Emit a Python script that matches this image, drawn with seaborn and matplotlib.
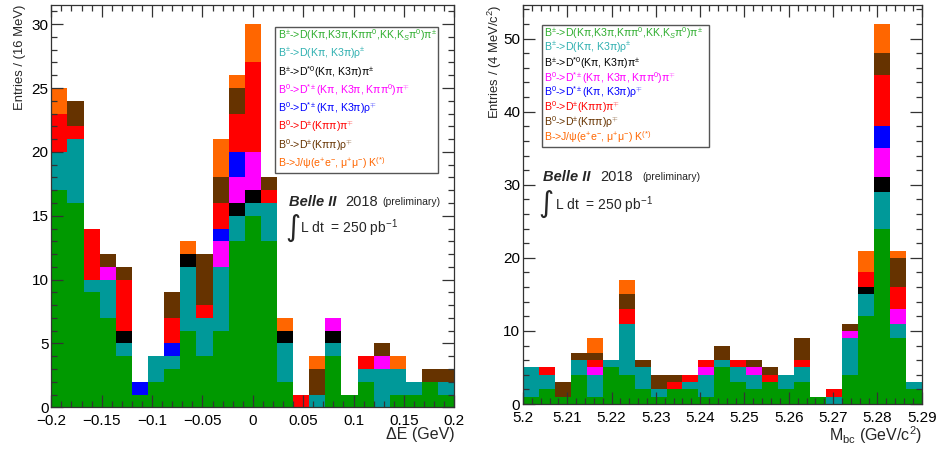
import numpy as np
import pandas as pd
import matplotlib
matplotlib.use("Agg")
import matplotlib.pyplot as plt
import seaborn as sns
from matplotlib.patches import Rectangle
from matplotlib.ticker import MultipleLocator, FuncFormatter

# ---------------- data ----------------
channels = ["Dpi", "Drho", "Dst0pi", "Dstpi", "Dstrho", "Dpi0", "Drho0", "JpsiK"]
legend_labels = [
    r"B$^{\pm}$->D(Kπ,K3π,Kππ$^{0}$,KK,K$_{S}$π$^{0}$)π$^{\pm}$",
    r"B$^{\pm}$->D(Kπ, K3π)ρ$^{\pm}$",
    r"B$^{\pm}$->D$^{*0}$(Kπ, K3π)π$^{\pm}$",
    r"B$^{0}$->D$^{*\pm}$(Kπ, K3π, Kππ$^{0}$)π$^{\mp}$",
    r"B$^{0}$->D$^{*\pm}$(Kπ, K3π)ρ$^{\mp}$",
    r"B$^{0}$->D$^{\pm}$(Kππ)π$^{\mp}$",
    r"B$^{0}$->D$^{\pm}$(Kππ)ρ$^{\mp}$",
    r"B->J/ψ(e$^{+}$e$^{-}$, μ$^{+}$μ$^{-}$) K$^{(*)}$",
]
bar_colors = ["#009900", "#009999", "#000000", "#ff00ff", "#0000ff", "#ff0000", "#663300", "#ff6600"]
text_colors = ["#2fae2f", "#2fb0b0", "#000000", "#ff00ff", "#0000ff", "#ff0000", "#663300", "#ff6600"]

# Delta E panel: 25 bins from -0.2 to 0.2 GeV
de_range = (-0.2, 0.2)
de_Dpi    = [17, 16, 9, 7, 4, 1, 2, 3, 6, 4, 6, 13, 15, 13, 2, 0, 0, 4, 1, 2, 0, 1, 1, 2, 1]
de_Drho   = [3, 5, 1, 3, 1, 0, 2, 1, 5, 3, 5, 2, 1, 3, 3, 0, 1, 1, 0, 1, 3, 2, 1, 0, 1]
de_Dst0pi = [0, 0, 0, 0, 1, 0, 0, 0, 1, 0, 0, 1, 1, 0, 1, 0, 0, 1, 0, 0, 0, 0, 0, 0, 0]
de_Dstpi  = [0, 0, 0, 1, 0, 0, 0, 0, 0, 0, 2, 2, 3, 0, 0, 0, 0, 1, 0, 0, 1, 0, 0, 0, 0]
de_Dstrho = [0, 0, 0, 0, 0, 1, 0, 1, 0, 0, 1, 2, 0, 0, 0, 0, 0, 0, 0, 0, 0, 0, 0, 0, 0]
de_Dpi0   = [3, 1, 4, 0, 4, 0, 0, 2, 0, 1, 2, 3, 7, 1, 0, 1, 0, 0, 0, 1, 0, 0, 0, 0, 0]
de_Drho0  = [0, 2, 0, 1, 1, 0, 0, 2, 0, 4, 2, 2, 0, 1, 0, 0, 2, 0, 0, 0, 1, 0, 0, 1, 1]
de_JpsiK  = [2, 0, 0, 0, 0, 0, 0, 0, 1, 0, 3, 1, 3, 0, 1, 0, 1, 0, 0, 0, 0, 1, 0, 0, 0]

# Mbc panel: 25 bins from 5.2 to 5.29 GeV/c^2
mbc_range = (5.2, 5.29)
mbc_Dpi    = [1, 2, 1, 4, 1, 5, 4, 2, 1, 2, 2, 1, 5, 3, 2, 3, 2, 3, 1, 0, 4, 12, 24, 9, 2]
mbc_Drho   = [4, 2, 0, 2, 3, 1, 7, 3, 1, 0, 1, 3, 1, 2, 2, 0, 2, 2, 0, 1, 5, 3, 5, 2, 1]
mbc_Dst0pi = [0, 0, 0, 0, 0, 0, 0, 0, 0, 0, 0, 0, 0, 0, 0, 0, 0, 0, 0, 0, 0, 1, 2, 0, 0]
mbc_Dstpi  = [0, 0, 0, 0, 1, 0, 0, 0, 0, 0, 0, 1, 0, 0, 1, 0, 0, 0, 0, 0, 1, 0, 4, 2, 0]
mbc_Dstrho = [0, 0, 0, 0, 0, 0, 0, 0, 0, 0, 0, 0, 0, 0, 0, 0, 0, 0, 0, 0, 0, 0, 3, 0, 0]
mbc_Dpi0   = [0, 1, 0, 0, 1, 0, 2, 0, 0, 1, 1, 1, 0, 1, 0, 1, 0, 1, 0, 1, 0, 2, 7, 3, 0]
mbc_Drho0  = [0, 0, 2, 1, 1, 0, 2, 1, 2, 1, 0, 0, 2, 0, 1, 1, 0, 3, 0, 0, 1, 0, 3, 4, 0]
mbc_JpsiK  = [0, 0, 0, 0, 2, 0, 2, 0, 0, 0, 0, 0, 0, 0, 0, 0, 0, 0, 0, 0, 0, 3, 4, 1, 0]

de_series = [de_Dpi, de_Drho, de_Dst0pi, de_Dstpi, de_Dstrho, de_Dpi0, de_Drho0, de_JpsiK]
mbc_series = [mbc_Dpi, mbc_Drho, mbc_Dst0pi, mbc_Dstpi, mbc_Dstrho, mbc_Dpi0, mbc_Drho0, mbc_JpsiK]

# ---------------- style ----------------
sns.set_style("ticks")
plt.rcParams["font.family"] = ["Liberation Sans", "DejaVu Sans"]
plt.rcParams["mathtext.fontset"] = "custom"
plt.rcParams["mathtext.rm"] = "Liberation Sans"
plt.rcParams["mathtext.it"] = "Liberation Sans:italic"
plt.rcParams["mathtext.bf"] = "Liberation Sans:bold"

W, H = 940, 449
fig = plt.figure(figsize=(W / 100, H / 100), dpi=100)


def fx(px):
    return px / W


def fy(py):
    return 1 - py / H


def make_df(series, rng):
    edges = np.linspace(rng[0], rng[1], len(series[0]) + 1)
    centers = 0.5 * (edges[:-1] + edges[1:])
    rows = []
    for ch, vals in zip(channels, series):
        for c, v in zip(centers, vals):
            rows.append({"x": c, "w": v, "ch": ch})
    return pd.DataFrame(rows), edges.tolist()


palette = dict(zip(channels, bar_colors))
frame_col = "#333333"


def draw_panel(ax, series, rng, ymax, xmaj, xmin, ymaj, ymin):
    df, edges = make_df(series, rng)
    sns.histplot(data=df, x="x", weights="w", hue="ch", hue_order=channels[::-1],
                 multiple="stack", bins=edges, palette=palette, alpha=1,
                 linewidth=0, antialiased=False, legend=False, ax=ax)
    ax.set_axisbelow(False)
    ax.set_xlim(*rng)
    ax.set_ylim(0, ymax)
    ax.set_xlabel("")
    ax.set_ylabel("")
    ax.xaxis.set_major_locator(MultipleLocator(xmaj))
    ax.xaxis.set_minor_locator(MultipleLocator(xmin))
    ax.yaxis.set_major_locator(MultipleLocator(ymaj))
    ax.yaxis.set_minor_locator(MultipleLocator(ymin))
    ax.xaxis.set_major_formatter(FuncFormatter(lambda v, p: ("%g" % round(v, 4)).replace("-", "\u2212")))
    ax.yaxis.set_major_formatter(FuncFormatter(lambda v, p: "%d" % round(v)))
    ax.tick_params(which="both", direction="in", top=True, right=True, bottom=True, left=True,
                   color=frame_col, width=0.9, labelsize=11, labelcolor="black")
    ax.tick_params(which="major", length=8.6)
    ax.tick_params(which="minor", length=4.3)
    ax.tick_params(axis="x", pad=5)
    ax.tick_params(axis="y", pad=2)
    for s in ax.spines.values():
        s.set_color(frame_col)
        s.set_linewidth(0.9)
        s.set_zorder(10)


# left panel
ax1 = fig.add_axes([fx(51.3), fy(407.3), fx(454.3) - fx(51.3), fy(5) - fy(407.3)])
draw_panel(ax1, de_series, de_range, 31.5, 0.05, 0.01, 5, 1)

# right panel
ax2 = fig.add_axes([fx(523), fy(404), fx(921.7) - fx(523), fy(5) - fy(404)])
draw_panel(ax2, mbc_series, mbc_range, 54.6, 0.01, 0.002, 10, 2)

# axis titles
fig.text(fx(20), fy(5), "Entries / (16 MeV)", rotation=90, ha="center", va="top", fontsize=9.4)
fig.text(fx(494.5), fy(5), r"Entries / (4 MeV/c$^{2}$)", rotation=90, ha="center", va="top", fontsize=9.4)
fig.text(fx(455), fy(435), "ΔE (GeV)", ha="right", va="center", fontsize=11.5)
fig.text(fx(921.7), fy(435), r"M$_{\rm bc}$ (GeV/c$^{2}$)", ha="right", va="center", fontsize=11.5)


# legends
def draw_legend(x0, y0, x1, y1, tx, ty0, dy, fs):
    fig.add_artist(Rectangle((fx(x0), fy(y1)), fx(x1) - fx(x0), fy(y0) - fy(y1),
                             transform=fig.transFigure, facecolor="white",
                             edgecolor="#555555", linewidth=1.0, zorder=5))
    for i, (lab, col) in enumerate(zip(legend_labels, text_colors)):
        fig.text(fx(tx), fy(ty0 + i * dy), lab, color=col, fontsize=fs,
                 ha="left", va="center", zorder=6)


draw_legend(275, 27.3, 437.7, 172.7, 277.5, 35.5, 18.2, 7.6)
draw_legend(541.7, 25, 709, 146.7, 543.5, 33, 14.9, 7.6)


# Belle II labels
def belle(xb, yb, x2018, xpre, xint, yint, xl, yl):
    fig.text(fx(xb), fy(yb), "Belle II", fontsize=10.5, fontweight="bold", fontstyle="italic",
             ha="left", va="center")
    fig.text(fx(x2018), fy(yb), "2018", fontsize=10.5, ha="left", va="center")
    fig.text(fx(xpre), fy(yb), "(preliminary)", fontsize=7.5, ha="left", va="center")
    fig.text(fx(xint), fy(yint), "\u222b", fontsize=21, ha="left", va="center",
             family=["DejaVu Sans"])
    fig.text(fx(xl), fy(yl), r"L dt  = 250 pb$^{-1}$", fontsize=10, ha="left", va="center")


belle(289, 202, 345.5, 382, 285, 228, 299.5, 228)
belle(542.7, 177, 600.5, 642.7, 538, 204, 555, 205)

fig.savefig("out.png", dpi=100)
